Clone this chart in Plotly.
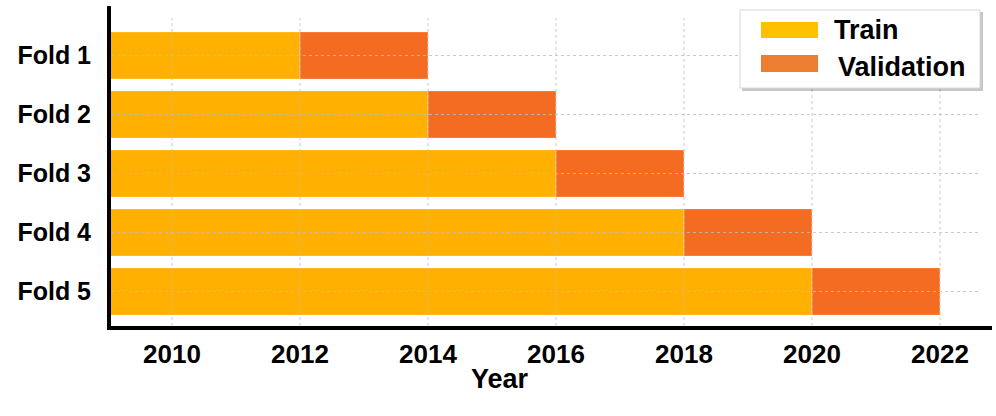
import plotly.graph_objects as go

folds = ["Fold 1", "Fold 2", "Fold 3", "Fold 4", "Fold 5"]
train_start = [2009, 2009, 2009, 2009, 2009]
train_end = [2012, 2014, 2016, 2018, 2020]
val_end = [2014, 2016, 2018, 2020, 2022]
year_ticks = [2010, 2012, 2014, 2016, 2018, 2020, 2022]
legend_labels = ["Train", "Validation"]

TRAIN_BAR = "#FFB000"
VAL_BAR = "#F46B22"
TRAIN_LEG = "#FFC000"
VAL_LEG = "#ED7D31"

W, H = 996, 416
ML, MR, MT, MB = 111, 4, 6, 90
PW, PH = W - ML - MR, H - MT - MB


def px(xp):
    return (xp - ML) / PW


def py(yp):
    return (H - MB - yp) / PH


FONT = "Liberation Sans, Arial, sans-serif"

fig = go.Figure()
fig.add_trace(go.Bar(
    y=folds, x=[e - s for s, e in zip(train_start, train_end)], base=train_start,
    orientation="h", width=0.8, marker=dict(color=TRAIN_BAR, line=dict(color="rgba(255,255,255,0.5)", width=0.6)),
    showlegend=False, name="Train"))
fig.add_trace(go.Bar(
    y=folds, x=[v - t for t, v in zip(train_end, val_end)], base=train_end,
    orientation="h", width=0.8, marker=dict(color=VAL_BAR, line=dict(color="rgba(255,255,255,0.5)", width=0.6)),
    showlegend=False, name="Validation"))

shapes = []
grid = dict(color="rgba(190,190,190,0.8)", width=1, dash="3px,3px")
for yr in year_ticks:
    shapes.append(dict(type="line", xref="x", yref="paper", x0=yr, x1=yr, y0=0, y1=py(18),
                       line=grid, layer="above"))
for f in folds:
    shapes.append(dict(type="line", xref="paper", yref="y", x0=0, x1=px(980), y0=f, y1=f,
                       line=grid, layer="above"))

# legend box with shadow
bx0, bx1, by0, by1 = 740, 980, 10, 88
shapes.append(dict(type="rect", xref="paper", yref="paper", x0=px(bx0 + 2), x1=px(bx1 + 3),
                   y0=py(by1 + 3), y1=py(by0 + 2), fillcolor="rgba(0,0,0,0.22)", line=dict(width=0), layer="above"))
shapes.append(dict(type="rect", xref="paper", yref="paper", x0=px(bx0), x1=px(bx1),
                   y0=py(by1), y1=py(by0), fillcolor="white", line=dict(color="#d8d8d8", width=1), layer="above"))
leg_colors = [TRAIN_LEG, VAL_LEG]
sw_y = [(22, 38), (55, 72)]
txt_x = [832, 836]
txt_y = [30, 67]
annotations = []
for lab, c, (y0, y1), tx, ty in zip(legend_labels, leg_colors, sw_y, txt_x, txt_y):
    shapes.append(dict(type="rect", xref="paper", yref="paper", x0=px(761), x1=px(818),
                       y0=py(y1), y1=py(y0), fillcolor=c, line=dict(width=0), layer="above"))
    annotations.append(dict(text=lab, xref="paper", yref="paper", x=px(tx), y=py(ty),
                            xanchor="left", yanchor="middle", showarrow=False,
                            font=dict(family=FONT, size=27, color="black", weight="bold")))

annotations.append(dict(text="Year", xref="x", yref="paper", x=2015.125, y=py(379),
                        xanchor="center", yanchor="middle", showarrow=False,
                        font=dict(family=FONT, size=27, color="black", weight="bold")))

fig.update_layout(
    width=W, height=H, margin=dict(l=ML, r=MR, t=MT, b=MB, autoexpand=False),
    paper_bgcolor="white", plot_bgcolor="white", barmode="overlay",
    shapes=shapes, annotations=annotations, showlegend=False,
    font=dict(family=FONT, color="black"),
)
fig.update_xaxes(range=[2009 + 3 / 64, 2009 + (992 - 108) / 64], tickvals=year_ticks,
                 showgrid=False, zeroline=False, showline=True, linewidth=4, linecolor="black",
                 ticks="", ticklabelstandoff=2, automargin=False,
                 tickfont=dict(family=FONT, size=26, color="black", weight="bold"))
fig.update_yaxes(type="category", categoryorder="array", categoryarray=folds,
                 range=[(326 - 55.5) / 59, (6 - 55.5) / 59],
                 showgrid=False, zeroline=False, showline=True, linewidth=4, linecolor="black",
                 ticks="", ticklabelstandoff=11, automargin=False,
                 tickfont=dict(family=FONT, size=25, color="black", weight="bold"))

fig.write_html("out.html", config={"displayModeBar": False},
               post_script="document.body.style.margin='0';document.body.style.padding='0';")
